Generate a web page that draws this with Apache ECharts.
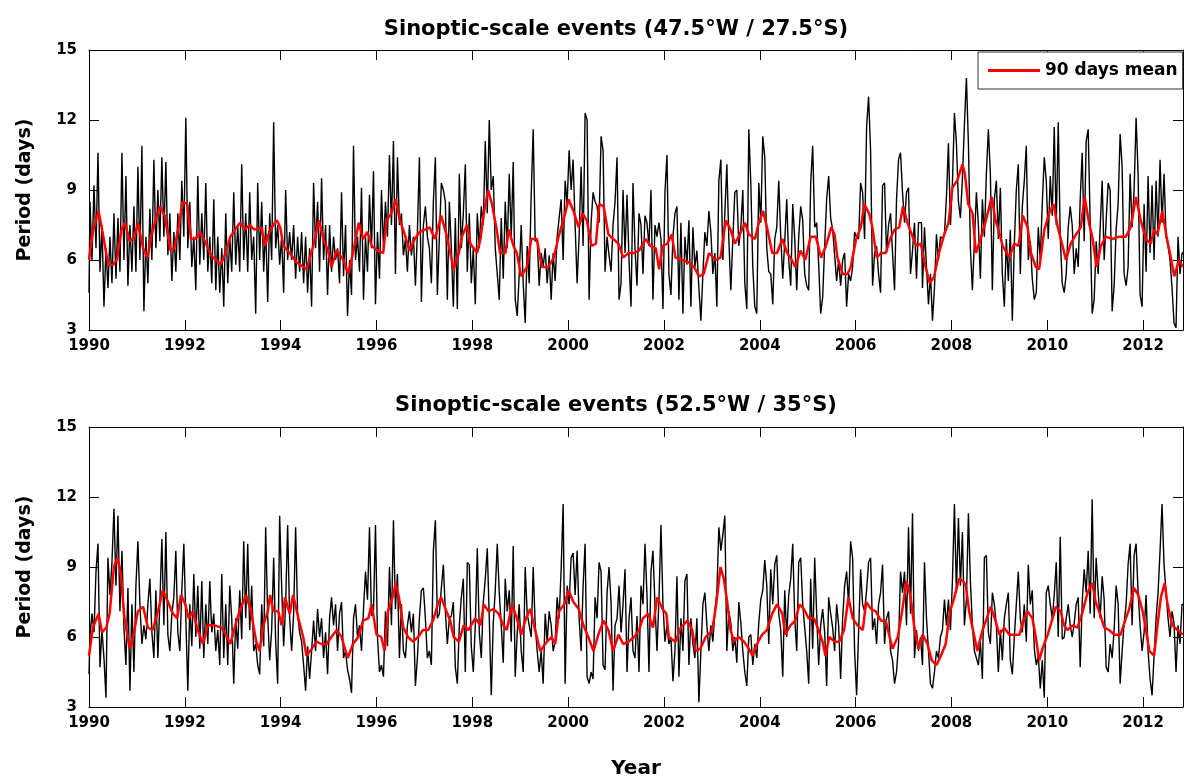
<!DOCTYPE html>
<html>
<head>
<meta charset="utf-8">
<script src="https://cdn.jsdelivr.net/npm/echarts@6/dist/echarts.min.js"></script>
<style>
  html, body { margin: 0; padding: 0; background: #fff; }
  #chart { width: 1186px; height: 781px; }
</style>
</head>
<body>
<div id="chart"></div>
<script>
// ---------------- DATA ----------------
const TITLE_TOP = 'Sinoptic-scale events (47.5°W / 27.5°S)';
const TITLE_BOTTOM = 'Sinoptic-scale events (52.5°W / 35°S)';
const Y_LABEL = 'Period (days)';
const X_LABEL = 'Year';
const LEGEND_NAME = '90 days mean';

// Period series start in 1990, one value every 1/24 year
const X_START = 1990;
const X_STEP = 1 / 24;
const X_END = 2012.833;

const blackTop = [
  // 1990
  4.6,8.5,6.0,9.2,6.5,10.6,5.5,7.5,4.0,6.5,4.8,7.0,5.0,8.0,5.2,7.8,5.5,10.6,6.0,9.6,4.9,7.5,5.5,8.3,
  // 1991
  5.5,10.0,6.0,10.9,3.8,7.0,5.0,8.2,6.0,10.3,6.5,9.0,6.8,10.4,7.0,10.2,6.2,8.0,5.1,7.2,5.5,8.0,6.0,9.4,
  // 1992
  7.0,12.1,6.5,8.5,5.7,7.0,4.7,9.6,5.8,8.0,6.0,9.3,5.5,7.0,5.0,8.6,4.7,7.0,4.6,6.5,4.0,8.0,5.0,7.0,
  // 1993
  5.5,8.9,5.8,7.5,5.5,10.1,6.0,8.0,5.5,8.9,6.0,7.0,3.7,9.3,6.0,8.5,5.5,7.5,4.2,8.0,6.0,11.9,6.5,7.5,
  // 1994
  5.8,7.0,4.6,9.0,6.0,7.2,6.0,7.5,5.2,7.0,5.5,7.2,5.0,7.0,4.6,6.5,4.0,9.3,6.5,8.5,5.5,9.5,6.0,7.5,
  // 1995
  4.5,7.5,5.5,7.0,6.0,6.5,5.0,8.9,5.3,7.5,3.6,6.0,4.5,10.9,6.0,7.0,5.5,9.1,4.3,7.0,5.5,8.8,6.5,9.8,
  // 1996
  4.1,7.2,5.2,9.0,6.5,8.5,7.0,10.5,7.5,11.1,5.4,10.4,7.5,8.0,6.2,6.9,5.5,7.5,6.2,7.0,4.9,7.2,10.4,4.2,
  // 1997
  7.5,8.3,7.0,6.5,5.0,8.5,10.4,4.5,7.0,9.3,9.0,8.5,4.3,8.5,6.5,4.0,7.8,3.9,9.7,6.5,8.0,10.1,5.5,8.0,
  // 1998
  5.0,6.5,4.1,8.0,6.5,8.3,7.5,11.1,8.0,12.0,9.0,9.6,6.5,5.4,4.3,7.8,5.2,8.5,6.5,9.7,7.0,10.2,4.3,3.6,
  // 1999
  5.4,7.5,5.0,3.3,6.6,5.0,8.8,11.6,6.8,6.9,4.9,6.3,5.7,6.5,5.0,6.2,4.3,6.3,5.1,7.0,7.8,8.6,6.0,9.4,
  // 2000
  8.4,10.7,9.0,10.3,7.5,5.0,7.0,10.0,6.6,12.3,12.0,4.3,7.6,8.9,8.5,8.3,7.6,11.3,10.7,5.5,7.0,6.2,5.5,7.5,
  // 2001
  8.5,10.4,4.3,5.0,9.0,6.3,8.8,6.0,4.0,9.3,6.5,4.9,8.0,7.5,5.4,7.9,7.6,6.6,9.0,4.3,7.5,7.0,7.6,6.9,
  // 2002
  3.9,8.9,10.5,5.4,4.5,7.0,8.0,8.3,4.3,7.6,3.7,7.0,5.8,7.7,4.0,7.4,5.7,6.4,4.8,3.4,5.4,7.2,6.6,8.1,
  // 2003
  7.2,5.4,6.3,4.0,9.4,10.3,6.0,8.0,10.1,6.9,4.7,6.9,8.9,9.0,6.6,7.4,9.0,5.0,3.9,11.6,9.3,5.7,4.0,3.7,
  // 2004
  9.3,7.6,11.3,10.4,6.5,5.5,5.4,4.1,6.9,7.4,9.4,7.0,5.2,6.8,8.6,6.0,4.9,8.4,6.9,4.7,7.0,8.3,7.7,5.4,
  // 2005
  4.9,4.7,9.3,10.9,7.4,7.6,5.8,3.7,4.4,6.6,8.6,9.6,7.8,7.3,6.2,5.1,6.0,4.9,6.0,6.3,4.0,5.4,5.1,5.7,
  // 2006
  7.2,7.0,6.9,9.3,8.9,6.9,11.7,13.0,10.7,4.9,6.3,6.6,5.4,4.6,9.2,9.3,6.3,7.5,8.0,6.3,4.7,8.6,10.3,10.6,
  // 2007
  8.9,7.6,8.9,9.1,5.4,6.4,7.6,5.2,7.6,7.6,4.8,7.4,5.7,4.1,5.4,3.4,4.8,7.1,6.0,7.0,6.9,7.1,8.7,11.0,
  // 2008
  7.5,9.3,12.3,11.0,8.5,7.8,9.5,11.8,13.8,11.0,6.5,4.7,6.8,8.9,7.5,5.2,8.6,7.0,9.7,11.6,9.7,4.7,8.6,9.4,
  // 2009
  6.9,9.1,5.4,4.0,6.9,5.1,7.3,3.4,6.7,9.0,10.1,5.4,8.3,9.4,10.9,6.0,6.8,5.2,4.3,4.6,7.4,6.0,8.4,10.4,
  // 2010
  9.4,6.9,9.6,7.9,11.7,7.5,11.9,7.0,5.0,4.6,5.4,7.4,8.3,7.5,5.4,6.5,5.7,8.6,10.6,6.8,11.1,11.6,7.6,3.7,
  // 2011
  4.3,6.8,5.4,7.4,9.4,6.0,7.7,9.3,9.0,3.8,4.9,7.3,8.4,11.4,10.0,5.4,4.9,5.7,9.7,7.4,9.0,12.1,9.7,4.5,
  // 2012
  4.0,8.4,5.5,9.6,6.3,9.2,6.0,9.4,7.0,10.3,7.6,9.7,7.0,6.6,6.0,4.8,3.3,3.1,7.0,5.4,6.3
];

const blackBottom = [
  // 1990
  4.4,6.1,7.0,6.2,8.8,10.0,4.7,6.3,5.1,3.4,9.4,7.8,9.2,11.5,8.2,11.2,7.1,9.7,6.4,4.8,8.1,3.7,7.4,4.5,
  // 1991
  8.2,10.1,7.4,5.7,6.5,5.9,7.4,8.5,6.2,5.1,8.0,5.1,7.5,10.2,6.5,10.5,6.1,5.4,7.0,7.7,9.7,6.2,5.4,8.0,
  // 1992
  10.0,6.8,3.7,7.4,5.6,8.7,6.0,8.2,5.5,8.4,5.1,7.4,5.7,8.4,6.2,7.0,5.4,6.3,4.8,8.7,5.1,7.4,4.8,8.2,
  // 1993
  6.8,4.0,6.8,5.5,8.0,5.9,10.1,6.8,10.0,6.3,8.2,5.4,5.7,4.8,4.4,7.4,5.6,10.7,6.9,5.0,6.3,9.4,5.8,4.0,
  // 1994
  11.2,8.2,5.6,7.4,10.8,6.8,5.4,7.0,10.7,7.0,6.2,5.8,4.8,3.7,5.6,4.2,5.4,6.7,5.4,7.2,6.0,6.8,5.1,6.2,
  // 1995
  4.4,6.8,7.7,6.5,7.4,5.4,7.0,7.5,5.1,5.4,4.6,4.2,3.6,6.8,7.4,6.0,6.5,5.4,7.2,8.8,7.6,10.7,6.9,7.1,
  // 1996
  10.8,6.0,4.5,4.8,4.3,7.1,5.6,9.0,6.5,11.0,7.2,8.7,5.1,7.4,5.4,5.1,6.5,7.1,6.2,7.0,3.9,5.1,6.8,8.0,
  // 1997
  8.1,6.8,5.1,5.4,4.8,9.7,11.0,6.8,7.0,8.1,9.1,7.1,5.7,6.8,6.9,7.5,4.7,4.0,6.5,7.7,8.5,4.5,9.2,9.1,
  // 1998
  5.6,4.5,6.5,9.8,6.2,5.1,7.5,8.5,9.8,6.8,3.5,6.6,8.0,10.0,7.9,6.5,4.9,8.5,7.1,8.0,5.8,9.9,4.3,6.2,
  // 1999
  7.4,5.4,4.5,9.0,7.0,6.5,6.0,9.0,6.5,5.4,4.5,5.4,4.0,7.0,5.8,7.1,6.5,5.4,5.8,7.7,6.8,8.9,11.7,4.0,
  // 2000
  8.2,7.4,9.4,9.6,7.8,9.7,6.8,5.4,8.2,10.0,4.3,4.0,4.5,4.2,7.7,6.8,9.2,8.8,4.8,4.6,7.9,9.0,7.5,3.7,
  // 2001
  6.5,6.8,8.2,6.2,7.4,8.9,4.5,6.8,7.7,5.4,5.1,6.9,4.5,8.2,7.4,10.0,7.8,4.5,8.8,9.7,7.4,5.4,7.6,10.8,
  // 2002
  7.4,5.8,6.5,5.7,6.0,4.1,5.4,8.6,4.3,6.8,5.4,8.4,8.7,4.8,6.8,5.7,5.1,6.8,3.2,5.4,7.4,7.9,6.5,5.4,
  // 2003
  6.5,5.8,7.1,7.9,10.7,9.7,10.4,11.2,5.4,7.1,6.6,5.4,6.0,4.9,7.5,6.6,5.4,4.5,3.9,6.0,6.1,4.8,5.7,5.1,
  // 2004
  6.6,7.6,8.0,9.3,8.2,5.7,8.9,7.4,9.1,9.5,7.0,6.3,4.3,8.0,6.0,7.8,8.5,10.0,6.8,5.4,9.2,9.4,7.4,6.4,
  // 2005
  5.4,4.0,8.5,5.5,9.4,7.0,4.8,6.5,7.2,6.2,3.9,7.7,7.0,6.4,5.4,7.4,6.5,4.2,6.8,8.2,8.8,7.4,10.1,9.4,
  // 2006
  5.4,3.5,6.2,8.9,7.4,7.1,8.0,9.2,9.4,6.3,6.8,5.7,7.4,7.9,9.1,5.7,6.8,7.1,5.4,5.0,4.0,4.5,5.7,8.8,
  // 2007
  7.9,8.8,6.5,10.7,7.0,11.3,5.1,6.3,5.4,6.0,4.8,9.2,6.8,5.4,4.0,3.8,4.5,5.4,5.1,6.0,6.3,7.6,6.5,7.6,
  // 2008
  6.3,8.4,11.7,7.9,11.1,8.2,10.5,6.5,7.6,11.3,8.4,6.5,5.4,5.1,4.8,5.8,4.2,9.4,9.5,6.2,5.7,7.9,7.4,6.5,
  // 2009
  4.5,6.3,5.0,6.8,7.4,7.9,5.0,4.4,6.0,7.4,8.8,6.8,6.2,7.4,5.8,9.1,7.4,8.0,5.5,4.8,5.2,3.8,5.0,3.4,
  // 2010
  7.9,8.2,7.4,6.8,7.8,9.2,6.0,10.3,5.9,6.0,6.8,7.4,6.5,6.0,6.6,7.4,7.7,4.7,7.5,8.9,7.9,9.7,7.0,11.9,
  // 2011
  6.8,9.4,7.9,6.8,8.6,7.6,4.7,4.5,5.7,5.1,6.3,8.2,7.4,4.0,5.4,6.6,7.4,9.1,10.0,6.5,9.5,10.0,7.9,6.5,
  // 2012
  5.4,6.2,7.8,5.4,4.2,3.5,5.2,6.8,7.9,9.7,11.7,9.1,7.9,6.8,6.0,7.1,6.6,4.5,6.5,5.7,7.4
];

// 90 days mean: [decimal year, period]
const redTop = [
  [1990.00,6.0],[1990.08,7.2],[1990.20,8.1],[1990.30,7.0],[1990.40,5.8],[1990.50,5.8],[1990.58,6.0],[1990.68,7.3],
  [1990.75,7.6],[1990.85,6.8],[1990.95,7.0],[1991.02,7.6],[1991.13,6.5],[1991.22,6.1],[1991.30,7.0],[1991.40,7.8],
  [1991.48,8.3],[1991.58,7.9],[1991.70,6.4],[1991.78,6.5],[1991.87,7.4],[1991.95,8.5],[1992.05,8.4],[1992.13,6.9],
  [1992.22,6.9],[1992.32,7.2],[1992.42,6.8],[1992.55,6.2],[1992.65,6.0],[1992.75,5.8],[1992.85,6.3],[1992.95,7.0],
  [1993.05,7.3],[1993.15,7.6],[1993.25,7.3],[1993.35,7.5],[1993.45,7.3],[1993.60,7.4],[1993.67,6.6],[1993.78,7.3],
  [1993.92,7.7],[1993.99,7.4],[1994.06,6.6],[1994.19,6.3],[1994.33,5.9],[1994.47,5.7],[1994.54,5.6],[1994.68,6.6],
  [1994.80,7.7],[1994.89,6.9],[1994.99,6.4],[1995.06,5.7],[1995.17,6.4],[1995.31,6.0],[1995.41,5.4],[1995.51,6.3],
  [1995.63,7.6],[1995.72,6.9],[1995.81,7.2],[1995.90,6.6],[1996.03,6.4],[1996.14,6.3],[1996.21,7.7],[1996.31,8.0],
  [1996.40,8.6],[1996.49,7.7],[1996.59,7.1],[1996.69,6.4],[1996.80,6.9],[1996.90,7.2],[1997.01,7.3],[1997.11,7.4],
  [1997.22,6.9],[1997.35,7.9],[1997.46,7.1],[1997.54,6.3],[1997.61,5.6],[1997.72,6.3],[1997.78,7.0],[1997.89,7.5],
  [1997.96,6.7],[1998.10,6.3],[1998.17,6.9],[1998.24,8.0],[1998.33,9.0],[1998.41,8.4],[1998.51,7.3],[1998.58,6.3],
  [1998.69,6.3],[1998.76,7.3],[1998.86,6.6],[1998.93,6.3],[1999.02,5.3],[1999.14,5.7],[1999.23,6.9],[1999.35,6.9],
  [1999.45,5.7],[1999.59,5.7],[1999.70,6.1],[1999.80,7.0],[1999.90,7.7],[2000.01,8.6],[2000.11,8.1],[2000.22,7.4],
  [2000.30,8.0],[2000.39,7.7],[2000.49,6.6],[2000.58,6.7],[2000.65,8.4],[2000.74,8.3],[2000.84,7.1],[2000.94,6.9],
  [2001.05,6.7],[2001.15,6.1],[2001.26,6.3],[2001.38,6.3],[2001.48,6.4],[2001.62,6.9],[2001.72,6.6],[2001.83,6.5],
  [2001.90,5.6],[2001.97,6.6],[2002.07,6.7],[2002.16,7.1],[2002.24,6.1],[2002.38,6.0],[2002.52,5.9],[2002.63,5.7],
  [2002.73,5.3],[2002.83,5.4],[2002.94,6.3],[2003.08,6.0],[2003.18,6.1],[2003.29,7.7],[2003.39,7.3],[2003.48,6.7],
  [2003.56,7.0],[2003.69,7.6],[2003.77,7.1],[2003.90,6.9],[2003.98,7.6],[2004.07,8.1],[2004.15,7.4],[2004.26,6.3],
  [2004.36,6.3],[2004.47,6.9],[2004.57,6.3],[2004.67,6.0],[2004.74,5.7],[2004.85,6.4],[2004.95,6.0],[2005.06,7.0],
  [2005.17,7.0],[2005.28,6.1],[2005.38,6.6],[2005.49,7.4],[2005.56,7.1],[2005.62,6.1],[2005.73,5.4],[2005.83,5.4],
  [2005.90,5.7],[2006.01,6.9],[2006.11,7.4],[2006.18,8.4],[2006.28,8.0],[2006.35,7.4],[2006.44,6.1],[2006.53,6.3],
  [2006.63,6.3],[2006.72,6.9],[2006.81,7.3],[2006.91,7.4],[2006.99,8.3],[2007.08,7.6],[2007.19,7.0],[2007.27,6.6],
  [2007.36,6.7],[2007.46,5.7],[2007.55,5.0],[2007.64,5.3],[2007.74,6.3],[2007.85,7.1],[2007.94,7.6],[2008.02,9.1],
  [2008.12,9.4],[2008.23,10.1],[2008.28,9.7],[2008.35,8.4],[2008.44,8.0],[2008.51,6.3],[2008.61,6.9],[2008.72,7.7],
  [2008.84,8.7],[2008.92,7.7],[2008.98,7.3],[2009.07,6.6],[2009.21,6.1],[2009.31,6.7],[2009.40,6.6],[2009.49,7.9],
  [2009.59,7.4],[2009.66,6.3],[2009.76,5.7],[2009.83,5.6],[2009.94,7.3],[2010.04,8.0],[2010.13,8.4],[2010.22,7.4],
  [2010.32,6.6],[2010.39,6.0],[2010.49,6.7],[2010.60,7.1],[2010.70,7.4],[2010.78,8.7],[2010.87,7.6],[2010.94,7.0],
  [2011.03,5.7],[2011.12,6.6],[2011.22,7.0],[2011.36,6.9],[2011.50,7.0],[2011.64,7.0],[2011.74,7.4],[2011.85,8.7],
  [2011.95,7.7],[2012.06,6.9],[2012.16,6.7],[2012.23,7.3],[2012.30,7.1],[2012.40,8.1],[2012.49,7.0],[2012.58,6.1],
  [2012.65,5.3],[2012.75,6.0],[2012.83,5.7]
];

const redBottom = [
  [1990.00,5.2],[1990.08,6.4],[1990.20,7.0],[1990.27,6.2],[1990.36,6.4],[1990.43,7.0],[1990.52,9.0],[1990.59,9.4],
  [1990.66,8.8],[1990.74,6.8],[1990.85,5.5],[1990.92,6.0],[1991.02,7.1],[1991.13,7.3],[1991.23,6.4],[1991.33,6.3],
  [1991.44,7.1],[1991.54,8.0],[1991.65,7.5],[1991.75,7.0],[1991.84,6.8],[1991.92,7.8],[1992.01,7.4],[1992.08,6.8],
  [1992.17,7.1],[1992.27,6.3],[1992.38,5.7],[1992.48,6.5],[1992.62,6.5],[1992.76,6.4],[1992.86,6.1],[1992.95,5.7],
  [1993.04,6.4],[1993.14,7.1],[1993.28,7.8],[1993.38,7.1],[1993.49,5.8],[1993.56,5.4],[1993.64,6.5],[1993.73,7.1],
  [1993.78,7.8],[1993.85,7.1],[1993.95,7.1],[1994.02,6.5],[1994.09,7.7],[1994.19,7.0],[1994.26,7.8],[1994.37,6.8],
  [1994.47,6.0],[1994.54,5.2],[1994.65,5.5],[1994.75,5.8],[1994.85,5.7],[1994.96,5.7],[1995.06,6.0],[1995.17,6.3],
  [1995.27,6.0],[1995.40,5.1],[1995.51,5.7],[1995.62,6.0],[1995.72,6.7],[1995.83,6.8],[1995.90,7.4],[1996.00,6.1],
  [1996.10,6.0],[1996.17,5.4],[1996.24,7.1],[1996.35,7.8],[1996.40,8.3],[1996.47,7.7],[1996.56,6.4],[1996.66,6.0],
  [1996.76,5.8],[1996.87,6.0],[1996.97,6.3],[1997.08,6.3],[1997.18,6.7],[1997.28,7.4],[1997.35,7.7],[1997.46,7.1],
  [1997.54,6.7],[1997.61,6.0],[1997.72,5.8],[1997.82,6.5],[1997.92,6.3],[1998.06,6.8],[1998.17,6.5],[1998.24,7.4],
  [1998.34,7.1],[1998.44,7.2],[1998.55,7.0],[1998.65,6.5],[1998.72,6.3],[1998.83,7.4],[1998.93,6.8],[1999.02,6.1],
  [1999.12,6.8],[1999.21,7.2],[1999.31,6.3],[1999.42,5.4],[1999.52,5.7],[1999.65,6.0],[1999.73,5.7],[1999.81,7.1],
  [1999.92,7.4],[2000.01,8.0],[2000.11,7.5],[2000.22,7.2],[2000.32,6.5],[2000.42,6.0],[2000.53,5.4],[2000.63,6.1],
  [2000.74,6.7],[2000.84,6.3],[2000.94,5.4],[2001.05,6.1],[2001.15,5.7],[2001.26,5.8],[2001.38,6.0],[2001.48,6.3],
  [2001.56,6.8],[2001.67,7.0],[2001.77,6.4],[2001.86,7.7],[2001.97,7.2],[2002.05,7.0],[2002.10,6.0],[2002.24,5.8],
  [2002.35,6.4],[2002.49,6.7],[2002.59,6.3],[2002.66,5.4],[2002.76,5.5],[2002.87,6.0],[2003.01,6.3],[2003.09,7.4],
  [2003.18,9.0],[2003.25,8.5],[2003.32,7.5],[2003.39,6.3],[2003.46,5.8],[2003.56,6.0],[2003.67,5.8],[2003.77,5.5],
  [2003.85,5.2],[2003.94,5.7],[2004.05,6.1],[2004.15,6.3],[2004.26,7.0],[2004.36,7.4],[2004.47,7.0],[2004.53,6.1],
  [2004.64,6.5],[2004.74,6.7],[2004.83,7.4],[2004.92,7.2],[2005.02,6.8],[2005.13,6.8],[2005.21,6.4],[2005.31,5.8],
  [2005.37,5.2],[2005.45,6.0],[2005.56,5.8],[2005.66,5.8],[2005.76,6.3],[2005.85,7.7],[2005.94,6.8],[2006.04,6.5],
  [2006.15,6.3],[2006.22,7.5],[2006.32,7.2],[2006.42,7.1],[2006.53,6.7],[2006.63,6.7],[2006.71,6.0],[2006.77,5.5],
  [2006.88,6.0],[2006.97,7.1],[2007.06,8.4],[2007.15,7.7],[2007.22,6.5],[2007.31,5.5],[2007.40,6.1],[2007.50,5.7],
  [2007.59,5.0],[2007.69,4.8],[2007.78,5.2],[2007.88,5.7],[2007.97,7.1],[2008.06,7.7],[2008.16,8.5],[2008.24,8.4],
  [2008.30,8.2],[2008.37,7.1],[2008.45,6.3],[2008.54,5.4],[2008.65,6.3],[2008.72,6.7],[2008.82,7.3],[2008.92,6.7],
  [2009.00,6.1],[2009.10,6.4],[2009.21,6.1],[2009.31,6.1],[2009.42,6.1],[2009.52,6.8],[2009.59,7.1],[2009.69,6.8],
  [2009.76,6.0],[2009.83,5.0],[2009.90,5.5],[2010.01,6.1],[2010.11,6.8],[2010.18,7.3],[2010.28,7.1],[2010.35,6.5],
  [2010.42,6.3],[2010.53,6.5],[2010.63,6.4],[2010.74,7.1],[2010.84,7.9],[2010.94,8.3],[2011.01,7.5],[2011.10,7.0],
  [2011.19,6.4],[2011.29,6.3],[2011.40,6.1],[2011.53,6.1],[2011.64,6.8],[2011.71,7.2],[2011.81,8.1],[2011.90,7.8],
  [2011.99,7.1],[2012.06,6.3],[2012.13,5.4],[2012.23,5.2],[2012.30,6.5],[2012.37,7.7],[2012.45,8.3],[2012.51,7.4],
  [2012.61,6.5],[2012.72,6.3],[2012.83,6.1]
];

// ---------------- CHART ----------------
const FONT = '"DejaVu Sans", "Liberation Sans", Arial, sans-serif';
function toPairs(arr) { return arr.map((v, i) => [X_START + i * X_STEP, v]); }

const chart = echarts.init(document.getElementById('chart'), null, { renderer: 'canvas' });

const GRIDS = [
  { left: 89, right: 1, top: 50, height: 280 },
  { left: 89, right: 1, top: 427, height: 280 }
];

function xAxisPair(gridIndex, withName) {
  const base = {
    type: 'value', gridIndex: gridIndex, min: X_START, max: X_END, interval: 2,
    splitLine: { show: false },
    axisLine: { show: true, onZero: false, lineStyle: { color: '#000', width: 1 } },
    axisTick: { show: true, inside: true, length: 10, lineStyle: { color: '#000' } }
  };
  const bottom = Object.assign({}, base, {
    position: 'bottom',
    axisLabel: {
      show: true, margin: 9, color: '#000', fontFamily: FONT, fontWeight: 'bold', fontSize: 15,
      formatter: v => (Math.abs(v - Math.round(v)) < 1e-6 ? String(Math.round(v)) : '')
    }
  });
  if (withName) {
    Object.assign(bottom, {
      name: X_LABEL, nameLocation: 'middle', nameGap: 52,
      nameTextStyle: { color: '#000', fontFamily: FONT, fontWeight: 'bold', fontSize: 20 }
    });
  }
  const top = Object.assign({}, base, { position: 'top', axisLabel: { show: false } });
  return [bottom, top];
}

function yAxisPair(gridIndex) {
  const base = {
    type: 'value', gridIndex: gridIndex, min: 3, max: 15, interval: 3,
    splitLine: { show: false },
    axisLine: { show: true, onZero: false, lineStyle: { color: '#000', width: 1 } },
    axisTick: { show: true, inside: true, length: 10, lineStyle: { color: '#000' } }
  };
  const left = Object.assign({}, base, {
    position: 'left',
    name: Y_LABEL, nameLocation: 'middle', nameGap: 54, nameRotate: 90,
    nameTextStyle: { color: '#000', fontFamily: FONT, fontWeight: 'bold', fontSize: 19 },
    axisLabel: { show: true, margin: 12, color: '#000', fontFamily: FONT, fontWeight: 'bold', fontSize: 15 }
  });
  const right = Object.assign({}, base, { position: 'right', axisLabel: { show: false } });
  return [left, right];
}

const option = {
  animation: false,
  backgroundColor: '#fff',
  grid: GRIDS,
  xAxis: [].concat(xAxisPair(0, false), xAxisPair(1, true)),
  yAxis: [].concat(yAxisPair(0), yAxisPair(1)),
  legend: {
    data: [LEGEND_NAME],
    left: 978, top: 52,
    padding: [10, 5, 10, 10],
    icon: 'rect',
    itemWidth: 52, itemHeight: 3, itemGap: 5,
    borderColor: '#333', borderWidth: 1, backgroundColor: '#fff',
    textStyle: { color: '#000', fontFamily: FONT, fontWeight: 'bold', fontSize: 17 },
    selectedMode: false
  },
  graphic: [
    { type: 'text', x: 616, y: 30, style: { text: TITLE_TOP, textAlign: 'center', textVerticalAlign: 'middle',
      font: 'bold 21px ' + FONT, fill: '#000' } },
    { type: 'text', x: 616, y: 406, style: { text: TITLE_BOTTOM, textAlign: 'center', textVerticalAlign: 'middle',
      font: 'bold 21px ' + FONT, fill: '#000' } }
  ],
  series: [
    { type: 'line', name: 'period top', xAxisIndex: 0, yAxisIndex: 0, data: toPairs(blackTop),
      step: 'middle', symbol: 'none', silent: true, z: 2,
      lineStyle: { color: '#000', width: 1.4 }, itemStyle: { color: '#000' } },
    { type: 'line', name: LEGEND_NAME, xAxisIndex: 0, yAxisIndex: 0, data: redTop,
      symbol: 'none', silent: true, z: 3,
      lineStyle: { color: '#ff0000', width: 2.5 }, itemStyle: { color: '#ff0000' } },
    { type: 'line', name: 'period bottom', xAxisIndex: 2, yAxisIndex: 2, data: toPairs(blackBottom),
      step: 'middle', symbol: 'none', silent: true, z: 2,
      lineStyle: { color: '#000', width: 1.4 }, itemStyle: { color: '#000' } },
    { type: 'line', name: 'mean bottom', xAxisIndex: 2, yAxisIndex: 2, data: redBottom,
      symbol: 'none', silent: true, z: 3,
      lineStyle: { color: '#ff0000', width: 2.5 }, itemStyle: { color: '#ff0000' } }
  ]
};

chart.setOption(option);
</script>
</body>
</html>
